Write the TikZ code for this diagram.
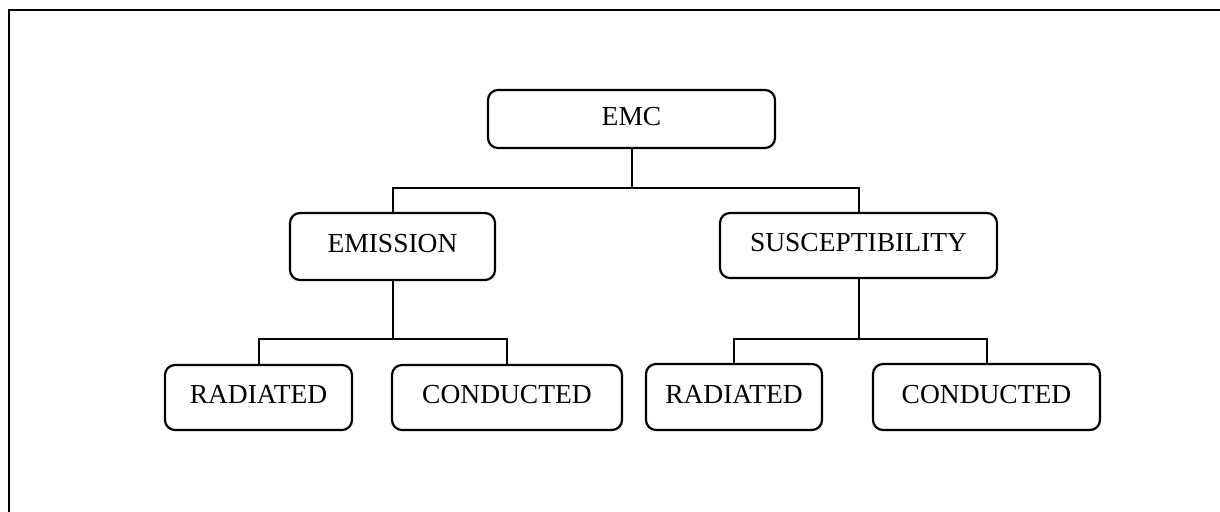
\documentclass[tikz,border=0pt]{standalone}
\usepackage{fontspec}
\setmainfont{Liberation Serif}
\begin{document}
\begin{tikzpicture}[x=0.5pt,y=-0.5pt,
  box/.style={draw,line width=1.1pt,rounded corners=5pt,inner sep=0pt,
    font=\fontsize{13.75}{16}\selectfont,text depth=3pt,text height=9.1pt},
  conn/.style={line width=1pt},
  frameline/.style={line width=1.1pt}]
\useasboundingbox (0,0) rectangle (1220,512);
\coordinate (ftl) at (9,10);
\coordinate (ftr) at (1222,10);
\coordinate (fbl) at (9,514);
\draw[frameline] (fbl) -- (ftl) -- (ftr);

\node[box,minimum width=143.5pt,minimum height=29pt] (emc) at (631.5,119) {EMC};
\node[box,minimum width=102.5pt,minimum height=33.5pt] (em) at (392.5,246.5) {EMISSION};
\node[box,minimum width=138.5pt,minimum height=32.5pt] (sus) at (858.5,245.5) {SUSCEPTIBILITY};
\node[box,minimum width=93.5pt,minimum height=32.5pt] (r1) at (258.5,397.5) {RADIATED};
\node[box,minimum width=115pt,minimum height=32.5pt] (c1) at (507,397.5) {CONDUCTED};
\node[box,minimum width=88pt,minimum height=33pt] (r2) at (734,397) {RADIATED};
\node[box,minimum width=113.5pt,minimum height=33pt] (c2) at (986.5,397) {CONDUCTED};

\coordinate (j1) at (631.5,188);
\coordinate (j2) at (392.5,339);
\coordinate (j3) at (858.5,339);

\draw[conn] (emc.south) -- (j1);
\draw[conn] (em.north) |- (j1) -| (sus.north);
\draw[conn] (em.south) -- (j2);
\draw[conn] (r1.north) |- (j2) -| (c1.north);
\draw[conn] (sus.south) -- (j3);
\draw[conn] (r2.north) |- (j3) -| (c2.north);
\end{tikzpicture}
\end{document}
